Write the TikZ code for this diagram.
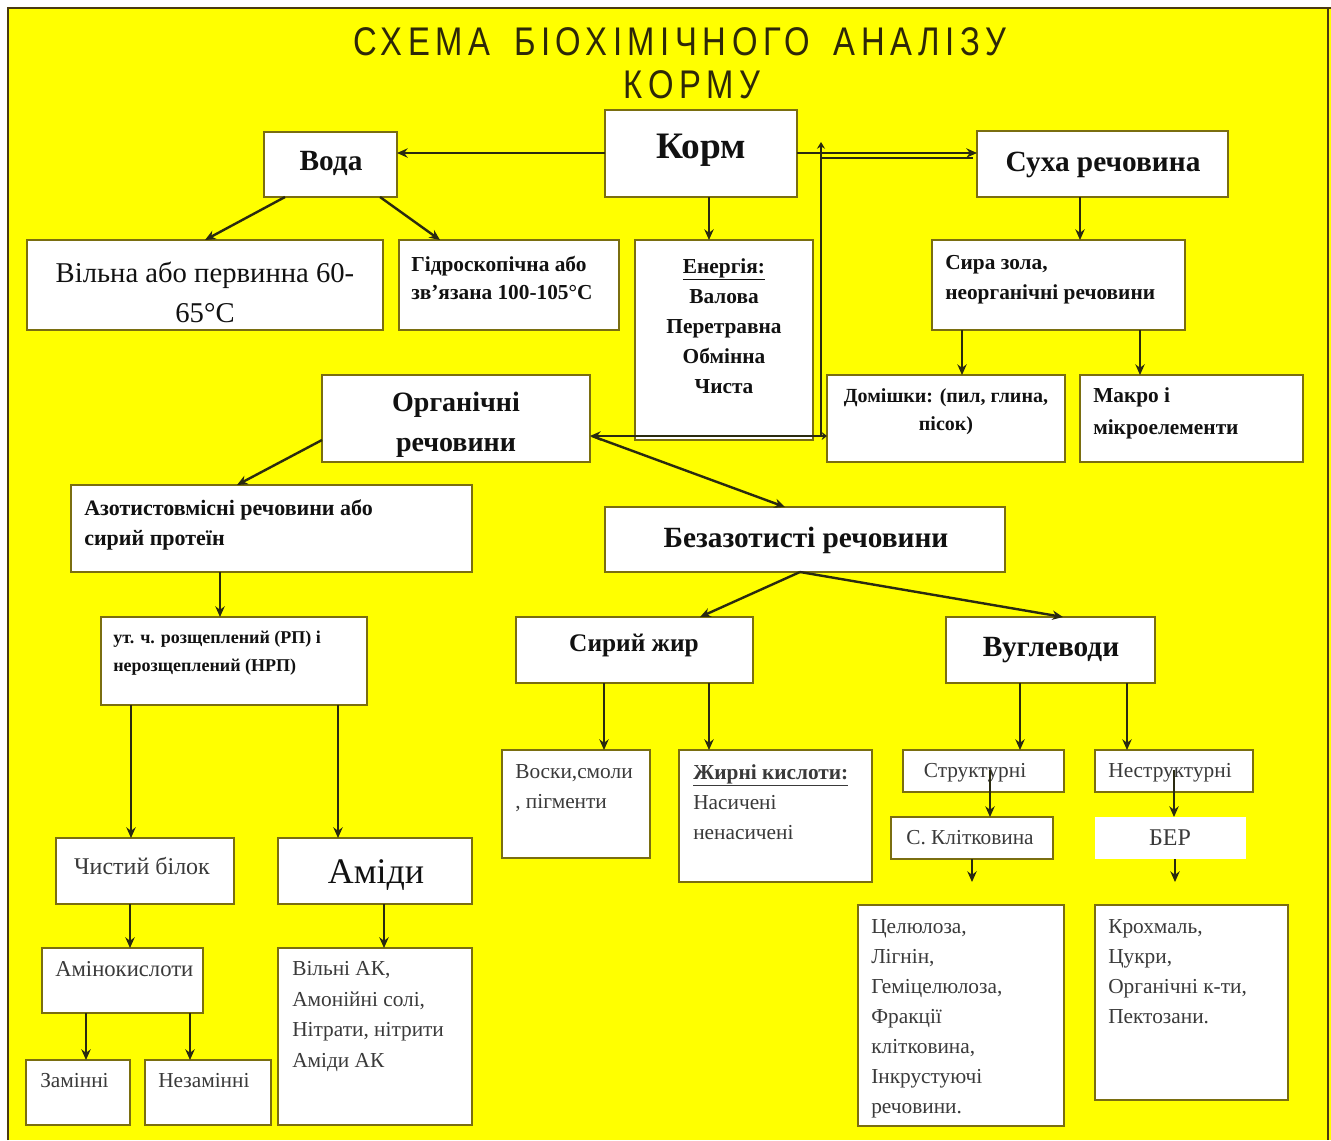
\documentclass[tikz,border=0pt]{standalone}
\usepackage{fontspec}
\setmainfont{Liberation Serif}
\newfontfamily\titlefont[FakeStretch=0.82,LetterSpace=14,WordSpace=1.6]{Liberation Sans}
\usetikzlibrary{arrows.meta,calc}
\definecolor{bg}{HTML}{FFFF00}
\definecolor{frm}{HTML}{4A3A10}
\definecolor{bord}{HTML}{7A6E10}
\definecolor{lnc}{HTML}{2A2A10}
\definecolor{txt}{HTML}{111111}
\definecolor{gtxt}{HTML}{3A3A3A}
\definecolor{ttl}{HTML}{2E2808}
\tikzset{
  box/.style={draw=bord, line width=1.5pt, fill=white, inner sep=0pt, outer sep=0pt, anchor=north west},
  nobox/.style={box, draw=none},
  arr/.style={draw=lnc, line width=1.8pt, -{Stealth[length=8pt,width=7pt]}},
  plainln/.style={draw=lnc, line width=1.8pt},
  lbl/.style={inner sep=0pt, text=txt},
  glbl/.style={inner sep=0pt, text=gtxt},
}
\newcommand\mybox[6][box]{\node[#1, minimum width={(#5-#3)*0.75pt}, minimum height={(#6-#4)*0.75pt}] (#2) at (#3,#4) {};}
\newcommand\vcon[4]{\coordinate (#1) at (#4,0); \draw[arr] (#2.south -| #1) -- (#3.north -| #1);}
\newcommand\fs[2]{\fontsize{#1}{#2}\selectfont}
\begin{document}
\begin{tikzpicture}[x=0.75pt,y=-0.75pt]
\useasboundingbox (0,0) rectangle (1331,1140);
\fill[white] (0,0) rectangle (1331,1140);
\fill[bg] (8,8) rectangle (1331,1140);
\draw[frm, line width=2.2pt] (8,1140) -- (8,8) -- (1331,8);
\draw[frm, line width=1.5pt] (1328,8) -- (1328,1140);

% title
\node[inner sep=0pt, text=ttl, font={\titlefont\fs{30}{36}}] (title1) at (680,42) {СХЕМА БІОХІМІЧНОГО АНАЛІЗУ};
\node[inner sep=0pt, text=ttl, font={\titlefont\fs{30}{36}}] (title2) at (692,85) {КОРМУ};

% boxes
\mybox{korm}{605}{110}{797}{197}
\mybox{voda}{264}{132}{397}{197}
\mybox{suha}{977}{131}{1228}{197}
\mybox{vilna}{27}{240}{383}{330}
\mybox{gidro}{399}{240}{619}{330}
\mybox{energ}{635}{240}{813}{440}
\mybox{syra}{932}{240}{1185}{330}
\mybox{org}{322}{375}{590}{462}
\mybox{domish}{827}{375}{1065}{462}
\mybox{makro}{1080}{375}{1303}{462}
\mybox{azot}{71}{485}{472}{572}
\mybox{bezaz}{605}{507}{1005}{572}
\mybox{ut}{101}{617}{367}{705}
\mybox{zhyr}{516}{617}{753}{683}
\mybox{vugl}{946}{617}{1155}{683}
\mybox{chyst}{56}{838}{234}{904}
\mybox{amidy}{278}{838}{472}{904}
\mybox{vosky}{502}{750}{650}{858}
\mybox{zhyrni}{679}{750}{872}{882}
\mybox{strukt}{903}{750}{1064}{792}
\mybox{nestr}{1095}{750}{1253}{792}
\mybox{klit}{891}{817}{1053}{859}
\mybox[nobox]{ber}{1095}{817}{1246}{859}
\mybox{cel}{858}{905}{1064}{1126}
\mybox{kroh}{1095}{905}{1288}{1100}
\mybox{amino}{42}{948}{203}{1013}
\mybox{vilniak}{278}{948}{472}{1125}
\mybox{zamin}{26}{1060}{130}{1125}
\mybox{nezamin}{145}{1060}{271}{1125}

% texts
\node[lbl, font={\fs{28}{32}\bfseries}] (kormT) at (701,150) {Корм};
\node[lbl, font={\fs{22}{26}\bfseries}] (vodaT) at (331,163) {Вода};
\node[lbl, font={\fs{22}{26}\bfseries}] (suhaT) at (1103,165) {Суха речовина};
\node[lbl, align=center, font={\fs{21.5}{30}}] (vilnaT) at (205,292) {Вільна або первинна 60-\\65°C};
\node[lbl, align=left, anchor=north west, font={\fs{16}{21}\bfseries}] (gidroT) at (411,256) {Гідроскопічна або\\зв'язана 100-105°C};
\node[lbl, align=center, anchor=north, font={\fs{16}{22.5}\bfseries}] (energT) at (724,258) {\underline{Енергія:}\\Валова\\Перетравна\\Обмінна\\Чиста};
\node[lbl, align=left, anchor=north west, font={\fs{16}{22.5}\bfseries}] (syraT) at (945,255) {Сира зола,\\неорганічні речовини};
\node[lbl, align=center, font={\fs{21}{30}\bfseries}] (orgT) at (456,425) {Органічні\\речовини};
\node[lbl, align=center, font={\fs{15}{21}\bfseries}] (domishT) at (946,412) {Домішки: (пил, глина,\\пісок)};
\node[lbl, align=left, anchor=north west, font={\fs{16}{24}\bfseries}] (makroT) at (1093,387) {Макро і\\мікроелементи};
\node[lbl, align=left, anchor=north west, font={\fs{16.5}{22.5}\bfseries}] (azotT) at (84,499) {Азотистовмісні речовини або\\сирий протеїн};
\node[lbl, font={\fs{22}{26}\bfseries}] (bezazT) at (806,540) {Безазотисті речовини};
\node[lbl, align=left, anchor=north west, font={\fs{13.5}{21}\bfseries}] (utT) at (113,631) {ут. ч. розщеплений (РП) і\\нерозщеплений (НРП)};
\node[lbl, font={\fs{19}{22}\bfseries}] (zhyrT) at (634,645) {Сирий жир};
\node[lbl, font={\fs{22}{26}\bfseries}] (vuglT) at (1051,650) {Вуглеводи};
\node[glbl, font={\fs{18}{22}}] (chystT) at (142,866) {Чистий білок};
\node[lbl, font={\fs{27}{30}}] (amidyT) at (376,875) {Аміди};
\node[glbl, align=left, anchor=north west, font={\fs{16}{22.5}}] (voskyT) at (515,764) {Воски,смоли\\, пігменти};
\node[glbl, align=left, anchor=north west, font={\fs{16}{22.5}}] (zhyrniT) at (693,764) {\textbf{\underline{Жирні кислоти:}}\\Насичені\\ненасичені};
\node[glbl, font={\fs{16}{20}}] (struktT) at (975,773) {Структурні};
\node[glbl, font={\fs{16}{20}}] (nestrT) at (1170,773) {Неструктурні};
\node[glbl, font={\fs{16}{20}}] (klitT) at (970,838) {С. Клітковина};
\node[glbl, font={\fs{18}{22}}] (berT) at (1170,838) {БЕР};
\node[glbl, align=left, anchor=north west, font={\fs{16}{22.5}}] (celT) at (871,919) {Целюлоза,\\Лігнін,\\Геміцелюлоза,\\Фракції\\клітковина,\\Інкрустуючі\\речовини.};
\node[glbl, align=left, anchor=north west, font={\fs{16}{22.5}}] (krohT) at (1108,919) {Крохмаль,\\Цукри,\\Органічні к-ти,\\Пектозани.};
\node[glbl, anchor=north west, font={\fs{17}{21}}] (aminoT) at (55,961) {Амінокислоти};
\node[glbl, align=left, anchor=north west, font={\fs{16}{23}}] (vilniakT) at (292,961) {Вільні АК,\\Амонійні солі,\\Нітрати, нітрити\\Аміди АК};
\node[glbl, anchor=north west, font={\fs{16}{20}}] (zaminT) at (40,1073) {Замінні};
\node[glbl, anchor=north west, font={\fs{16}{20}}] (nezaminT) at (158,1073) {Незамінні};

% connectors
\coordinate (h1) at (0,153);
\draw[arr] (korm.west |- h1) -- (voda.east |- h1);
\draw[arr] (korm.east |- h1) -- (suha.west |- h1);
\coordinate (vx) at (821,0);
\coordinate (h2) at (0,436);
\coordinate (h3) at (0,158);
\coordinate (vtop) at (821,142);
\draw[plainln] (vx |- h2) -- (vx |- h3) -- ([xshift=-3pt]suha.west |- h3);
\draw[draw=lnc, line width=1.8pt, -{Stealth[length=5pt,width=6pt]}] (vx |- h3) -- (vtop);
\draw[arr] (vx |- h2) -- (org.east |- h2);
\draw[draw=lnc, line width=1.8pt, -{Stealth[length=4pt,width=6pt]}] (vx |- h2) -- (domish.west |- h2);

\draw[arr] ($(voda.south west)+(21,0)$) -- ($(vilna.north west)+(178,0)$);
\draw[arr] ($(voda.south east)+(-17,0)$) -- ($(gidro.north west)+(41,0)$);
\vcon{c1}{korm}{energ}{709}
\vcon{c2}{suha}{syra}{1080}
\vcon{c3}{syra}{domish}{962}
\vcon{c4}{syra}{makro}{1140}
\draw[arr] ($(org.south west)+(0,-22)$) -- ($(azot.north west)+(166,0)$);
\draw[arr] ($(org.south east)+(2,-26)$) -- ($(bezaz.north west)+(180,0)$);
\vcon{c5}{azot}{ut}{220}
\vcon{c6}{ut}{chyst}{131}
\vcon{c7}{ut}{amidy}{338}
\vcon{c8}{chyst}{amino}{130}
\vcon{c9}{amino}{zamin}{86}
\vcon{c10}{amino}{nezamin}{190}
\vcon{c11}{amidy}{vilniak}{384}
\draw[arr] ($(bezaz.south west)+(195,0)$) -- ($(zhyr.north west)+(184,0)$);
\draw[arr] ($(bezaz.south west)+(195,0)$) -- ($(vugl.north west)+(117,0)$);
\vcon{c12}{zhyr}{vosky}{604}
\vcon{c13}{zhyr}{zhyrni}{709}
\vcon{c14}{vugl}{strukt}{1020}
\vcon{c15}{vugl}{nestr}{1127}
\coordinate (s1) at (990,770);
\draw[arr] (s1) -- (klit.north -| s1);
\coordinate (s2) at (1174,770);
\draw[arr] (s2) -- (ber.north -| s2);
\coordinate (e1) at (972,882);
\draw[arr] (klit.south -| e1) -- (e1);
\coordinate (e2) at (1175,882);
\draw[arr] (ber.south -| e2) -- (e2);
\end{tikzpicture}
\end{document}
